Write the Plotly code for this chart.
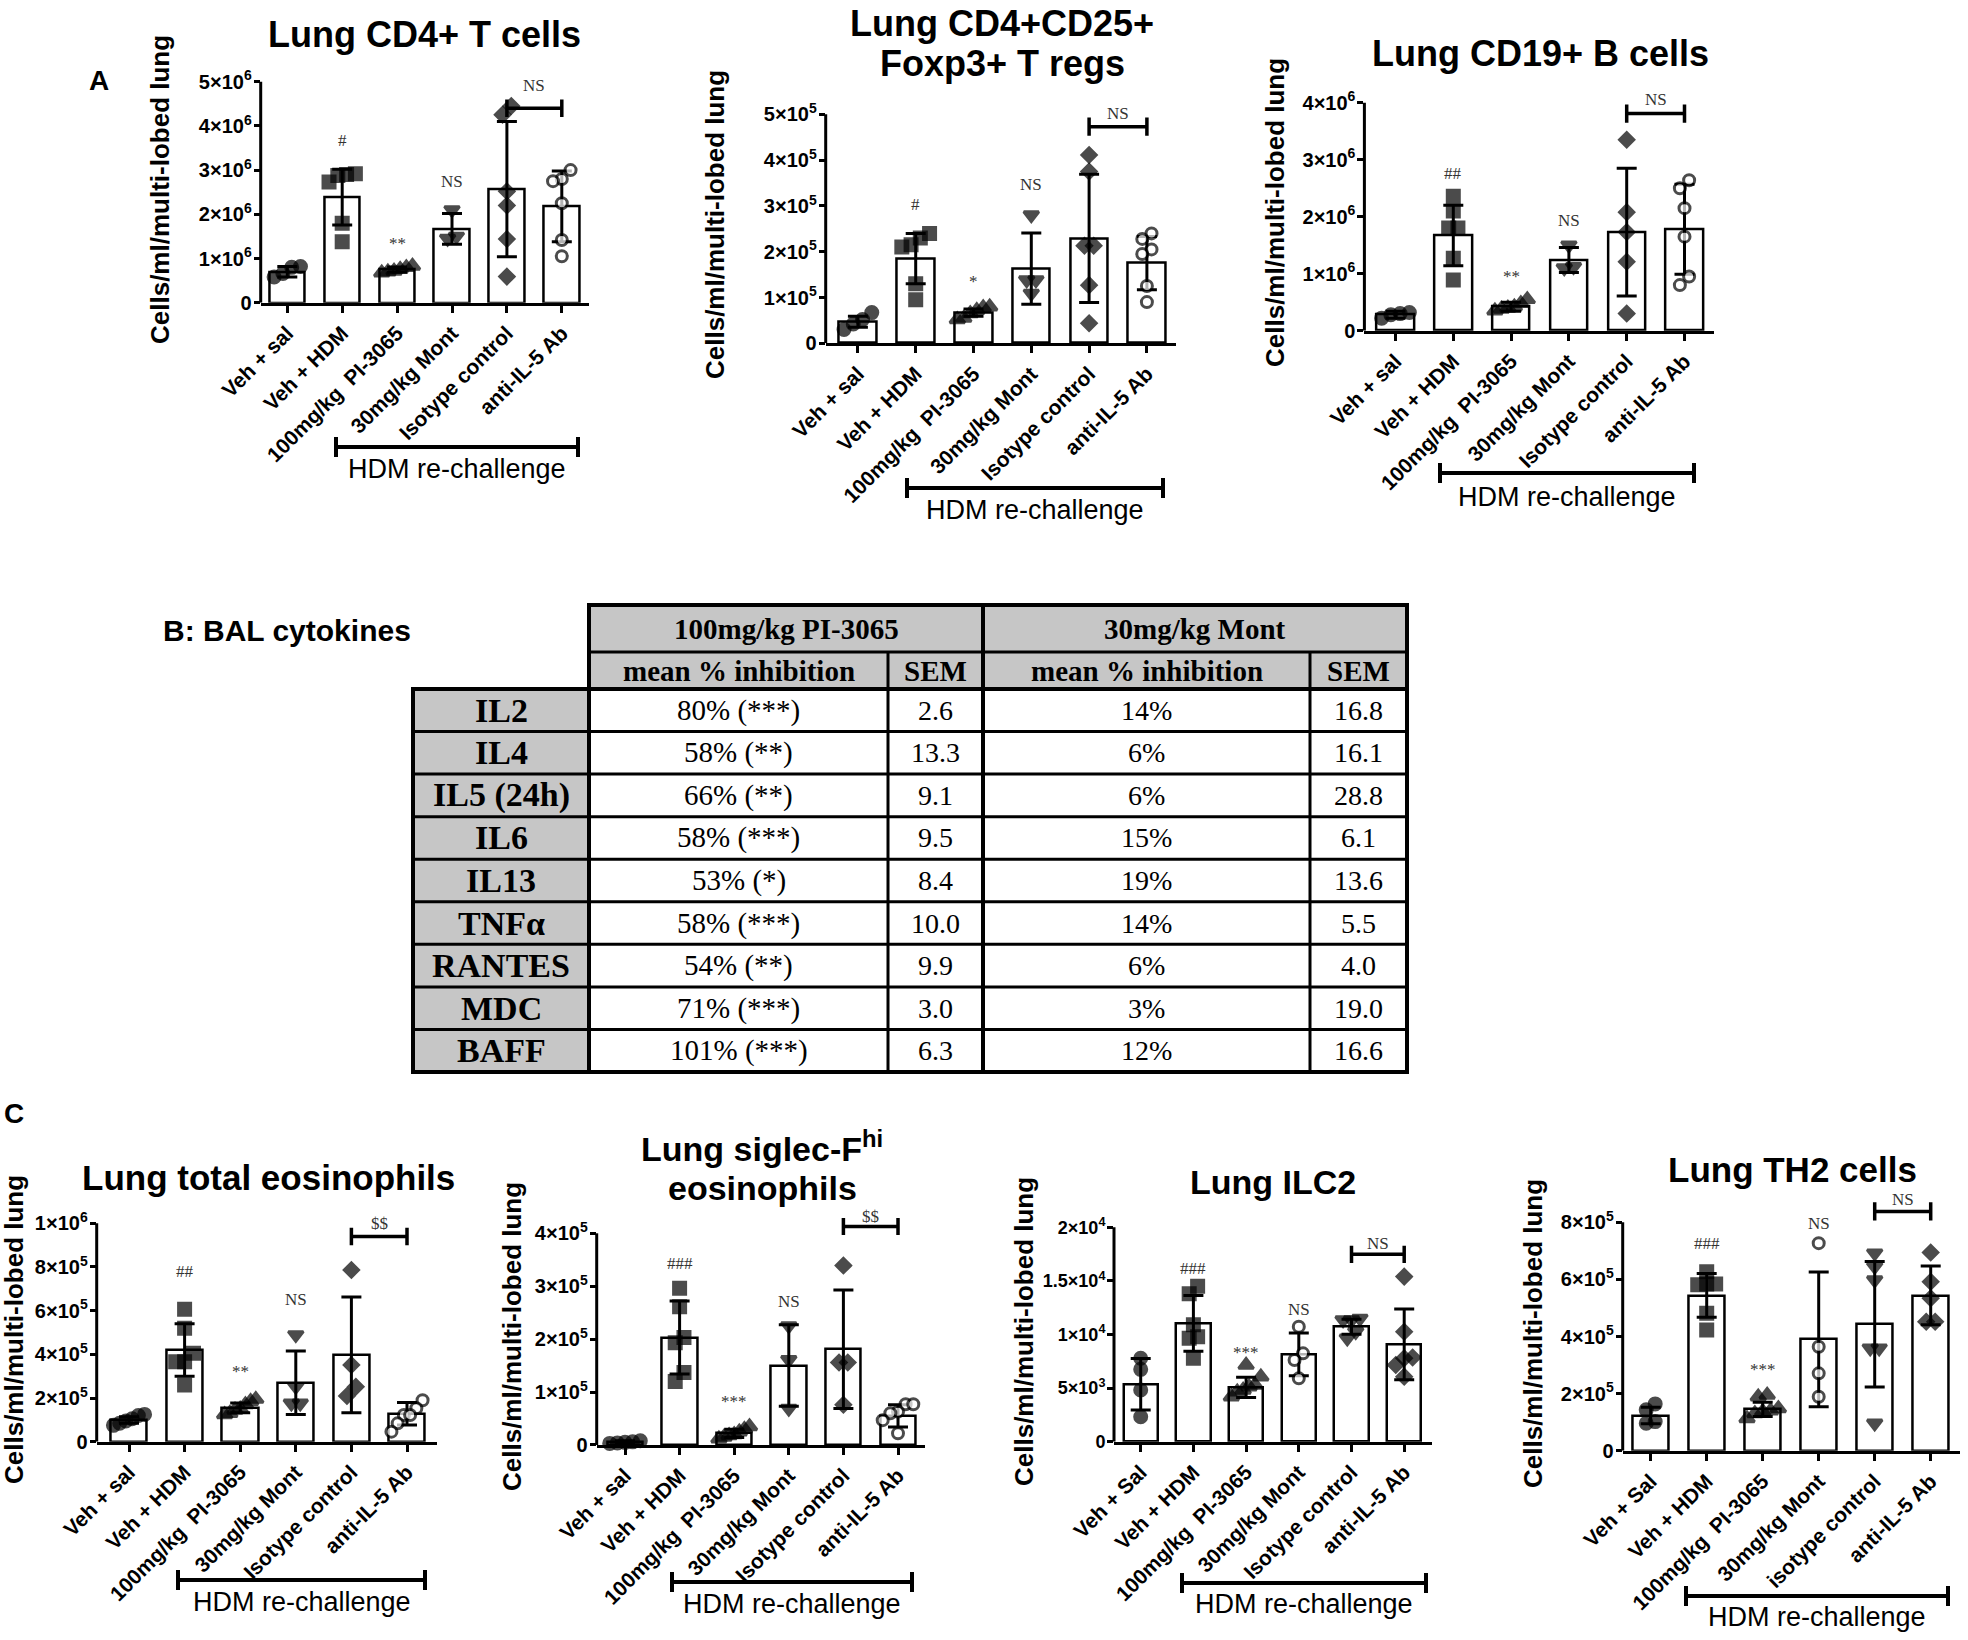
import plotly.graph_objects as go

W, H = 1968, 1640
SANS = "Liberation Sans"
SERIF = "Liberation Serif"

# ---------------- categories / tick labels ----------------
cats_A = ["Veh + sal", "Veh + HDM", "100mg/kg\u00a0 PI-3065", "30mg/kg Mont", "Isotype control", "anti-IL-5 Ab"]
cats_C3 = ["Veh + Sal", "Veh + HDM", "100mg/kg\u00a0 PI-3065", "30mg/kg Mont", "Isotype control", "anti-IL-5 Ab"]
cats_C4 = ["Veh + Sal", "Veh + HDM", "100mg/kg\u00a0 PI-3065", "30mg/kg Mont", "isotype control", "anti-IL-5 Ab"]

sym_std = ["circle", "square", "triangle-up", "triangle-down", "diamond", "open"]
sym_C34 = ["circle", "square", "triangle-up", "open", "triangle-down", "diamond"]

tickv_A1 = [0, 1, 2, 3, 4, 5]
tickt_A1 = ["0", "1×10<sup>6</sup>", "2×10<sup>6</sup>", "3×10<sup>6</sup>", "4×10<sup>6</sup>", "5×10<sup>6</sup>"]
tickv_A2 = [0, 1, 2, 3, 4, 5]
tickt_A2 = ["0", "1×10<sup>5</sup>", "2×10<sup>5</sup>", "3×10<sup>5</sup>", "4×10<sup>5</sup>", "5×10<sup>5</sup>"]
tickv_A3 = [0, 1, 2, 3, 4]
tickt_A3 = ["0", "1×10<sup>6</sup>", "2×10<sup>6</sup>", "3×10<sup>6</sup>", "4×10<sup>6</sup>"]
tickv_C1 = [0, 2, 4, 6, 8, 10]
tickt_C1 = ["0", "2×10<sup>5</sup>", "4×10<sup>5</sup>", "6×10<sup>5</sup>", "8×10<sup>5</sup>", "1×10<sup>6</sup>"]
tickv_C2 = [0, 1, 2, 3, 4]
tickt_C2 = ["0", "1×10<sup>5</sup>", "2×10<sup>5</sup>", "3×10<sup>5</sup>", "4×10<sup>5</sup>"]
tickv_C3 = [0, 5, 10, 15, 20]
tickt_C3 = ["0", "5×10<sup>3</sup>", "1×10<sup>4</sup>", "1.5×10<sup>4</sup>", "2×10<sup>4</sup>"]
tickv_C4 = [0, 2, 4, 6, 8]
tickt_C4 = ["0", "2×10<sup>5</sup>", "4×10<sup>5</sup>", "6×10<sup>5</sup>", "8×10<sup>5</sup>"]

# ---------------- data (in chart units) ----------------
# A1: Lung CD4+ T cells (x1e6)
A1_mean = [0.70, 2.39, 0.75, 1.67, 2.57, 2.18]
A1_sd = [0.12, 0.63, 0.06, 0.35, 1.53, 0.80]
A1_pts = [[0.82, 0.80, 0.58, 0.66], [2.92, 2.90, 2.88, 2.73, 1.80, 1.38],
          [0.83, 0.80, 0.76, 0.72, 0.68, 0.70], [2.10, 1.50, 1.45],
          [4.45, 4.25, 2.52, 2.20, 1.44, 0.59], [3.00, 2.80, 2.75, 2.25, 1.42, 1.05]]
A1_sig = ["#", "**", "NS"]
A1_sig_y = [3.68, 1.35, 2.74]
A1_pair = "NS"
A1_pair_y = 4.40
A1_pair_label_y = 4.92

# A2: Tregs (x1e5)
A2_mean = [0.47, 1.85, 0.67, 1.63, 2.29, 1.75]
A2_sd = [0.12, 0.55, 0.08, 0.78, 1.40, 0.58]
A2_pts = [[0.67, 0.52, 0.42, 0.30], [2.40, 2.30, 2.15, 2.10, 1.30, 0.95],
          [0.80, 0.78, 0.72, 0.65, 0.55, 0.52], [2.80, 1.38, 1.38, 1.09],
          [4.11, 3.75, 2.13, 2.13, 1.27, 0.44], [2.40, 2.28, 2.05, 1.95, 1.25, 0.90]]
A2_sig = ["#", "*", "NS"]
A2_sig_y = [3.02, 1.35, 3.46]
A2_pair = "NS"
A2_pair_y = 4.73
A2_pair_label_y = 5.02

# A3: CD19+ B cells (x1e6)
A3_mean = [0.28, 1.67, 0.42, 1.24, 1.73, 1.78]
A3_sd = [0.06, 0.53, 0.08, 0.22, 1.12, 0.79]
A3_pts = [[0.32, 0.30, 0.28, 0.22], [2.36, 2.10, 1.80, 1.80, 1.27, 0.89],
          [0.55, 0.48, 0.42, 0.38, 0.35, 0.40], [1.50, 1.12, 1.10],
          [3.35, 2.08, 1.73, 1.21, 0.30], [2.64, 2.50, 2.15, 1.65, 0.95, 0.80]]
A3_sig = ["##", "**", "NS"]
A3_sig_y = [2.76, 0.95, 1.94]
A3_pair = "NS"
A3_pair_y = 3.81
A3_pair_label_y = 4.05

# C1: total eosinophils (x1e5)
C1_mean = [0.99, 4.20, 1.55, 2.70, 3.97, 1.28]
C1_sd = [0.15, 1.20, 0.22, 1.45, 2.65, 0.52]
C1_pts = [[1.25, 1.20, 1.05, 0.95, 0.85, 0.75], [6.06, 5.19, 4.05, 3.66, 3.66, 2.60],
          [1.95, 1.85, 1.70, 1.50, 1.30, 1.25, 1.45], [4.89, 2.52, 1.76, 1.76],
          [7.86, 3.51, 2.52, 2.09], [1.90, 1.53, 1.22, 1.22, 0.84, 0.46]]
C1_sig = ["##", "**", "NS"]
C1_sig_y = [7.8, 3.2, 6.5]
C1_pair = "$$"
C1_pair_y = 9.4
C1_pair_label_y = 10.0

# C2: siglec-F hi eosinophils (x1e5)
C2_mean = [0.05, 2.03, 0.22, 1.50, 1.81, 0.55]
C2_sd = [0.03, 0.69, 0.08, 0.77, 1.12, 0.21]
C2_pts = [[0.08, 0.06, 0.04, 0.03, 0.05], [2.96, 2.61, 2.03, 1.93, 1.37, 1.20],
          [0.35, 0.30, 0.25, 0.20, 0.15, 0.12, 0.18], [2.25, 1.61, 0.69],
          [3.39, 1.56, 1.56, 0.76], [0.77, 0.77, 0.63, 0.60, 0.47, 0.22]]
C2_sig = ["###", "***", "NS"]
C2_sig_y = [3.43, 0.82, 2.71]
C2_pair = "$$"
C2_pair_y = 4.13
C2_pair_label_y = 4.31

# C3: ILC2 (x1e3)
C3_mean = [5.35, 11.04, 5.07, 8.15, 10.73, 9.08]
C3_sd = [2.40, 2.60, 0.95, 2.00, 0.70, 3.30]
C3_pts = [[7.78, 6.75, 4.82, 2.33], [14.5, 13.8, 10.9, 9.8, 9.64, 7.78],
          [7.15, 6.07, 5.29, 5.13, 4.82, 4.67, 4.20], [10.73, 8.24, 7.62, 5.91],
          [11.5, 11.35, 11.35, 10.26, 9.64], [15.4, 10.26, 7.86, 7.78, 7.15, 6.07]]
C3_sig = ["###", "***", "NS"]
C3_sig_y = [16.17, 8.3, 12.29]
C3_pair = "NS"
C3_pair_y = 17.48
C3_pair_label_y = 18.5

# C4: TH2 cells (x1e5)
C4_mean = [1.23, 5.44, 1.45, 3.90, 4.43, 5.44]
C4_sd = [0.29, 0.77, 0.25, 2.36, 2.20, 1.03]
C4_pts = [[1.64, 1.43, 1.02, 0.96], [6.27, 5.84, 5.84, 5.81, 4.81, 4.23],
          [1.95, 1.89, 1.48, 1.37, 1.40, 1.30, 1.13], [7.27, 3.64, 2.71, 1.89],
          [6.92, 6.45, 5.98, 3.59, 3.59, 0.96], [6.94, 5.92, 5.34, 4.52, 4.52]]
C4_sig = ["###", "***", "NS"]
C4_sig_y = [7.27, 2.85, 7.97]
C4_pair = "NS"
C4_pair_y = 8.38
C4_pair_label_y = 8.79

# ---------------- table B ----------------
tbl_groups = ["100mg/kg PI-3065", "30mg/kg Mont"]
tbl_sub = ["mean % inhibition", "SEM", "mean % inhibition", "SEM"]
cytokines = ["IL2", "IL4", "IL5 (24h)", "IL6", "IL13", "TNFα", "RANTES", "MDC", "BAFF"]
pi_inhib = ["80% (***)", "58% (**)", "66% (**)", "58% (***)", "53% (*)", "58% (***)", "54% (**)", "71% (***)", "101% (***)"]
pi_sem = [2.6, 13.3, 9.1, 9.5, 8.4, 10.0, 9.9, 3.0, 6.3]
mont_inhib = ["14%", "6%", "6%", "15%", "19%", "14%", "6%", "3%", "12%"]
mont_sem = [16.8, 16.1, 28.8, 6.1, 13.6, 5.5, 4.0, 19.0, 16.6]

# ---------------- layout specs (pixels) ----------------
charts = [
    dict(title=["Lung CD4+ T cells"], title_y=[34], title_x=424, tsize=36, cats=cats_A, mean=A1_mean, sd=A1_sd,
         pts=A1_pts, syms=sym_std, ymax=5, tv=tickv_A1, tt=tickt_A1, sig=A1_sig, sig_y=A1_sig_y, pair=A1_pair,
         pair_y=A1_pair_y, pair_ly=A1_pair_label_y, box=(260.7, 588.6, 81.7, 302.7, 287.3, 54.9),
         ytitle=(160, 190), hdm=(336, 578, 447, 469), tfs=20),
    dict(title=["Lung CD4+CD25+", "Foxp3+ T regs"], title_y=[23, 63], title_x=1002, tsize=36, cats=cats_A,
         mean=A2_mean, sd=A2_sd, pts=A2_pts, syms=sym_std, ymax=5, tv=tickv_A2, tt=tickt_A2, sig=A2_sig,
         sig_y=A2_sig_y, pair=A2_pair, pair_y=A2_pair_y, pair_ly=A2_pair_label_y,
         box=(825.7, 1175.7, 114.3, 343.3, 857.9, 57.8), ytitle=(715, 225), hdm=(907, 1163, 488, 510), tfs=20),
    dict(title=["Lung CD19+ B cells"], title_y=[53], title_x=1540, tsize=36, cats=cats_A, mean=A3_mean, sd=A3_sd,
         pts=A3_pts, syms=sym_std, ymax=4, tv=tickv_A3, tt=tickt_A3, sig=A3_sig, sig_y=A3_sig_y, pair=A3_pair,
         pair_y=A3_pair_y, pair_ly=A3_pair_label_y, box=(1364.4, 1713.5, 102.7, 330.7, 1395.5, 57.8),
         ytitle=(1275, 213), hdm=(1440, 1694, 473, 497), tfs=20),
    dict(title=["Lung total eosinophils"], title_y=[1177], title_x=268, tsize=35, cats=cats_A, mean=C1_mean,
         sd=C1_sd, pts=C1_pts, syms=sym_std, ymax=10, tv=tickv_C1, tt=tickt_C1, sig=C1_sig, sig_y=C1_sig_y,
         pair=C1_pair, pair_y=C1_pair_y, pair_ly=C1_pair_label_y, box=(96.7, 437, 1223.3, 1441.7, 129, 55.6),
         ytitle=(14, 1330), hdm=(178, 425, 1580, 1602), tfs=20),
    dict(title=["Lung siglec-F<sup>hi</sup>", "eosinophils"], title_y=[1146, 1188], title_x=762, tsize=34,
         cats=cats_A, mean=C2_mean, sd=C2_sd, pts=C2_pts, syms=sym_std, ymax=4, tv=tickv_C2, tt=tickt_C2,
         sig=C2_sig, sig_y=C2_sig_y, pair=C2_pair, pair_y=C2_pair_y, pair_ly=C2_pair_label_y,
         box=(596.7, 925, 1233.3, 1445, 625, 54.6), ytitle=(512, 1337), hdm=(672, 912, 1582, 1604), tfs=20),
    dict(title=["Lung ILC2"], title_y=[1182], title_x=1273, tsize=34, cats=cats_C3, mean=C3_mean, sd=C3_sd,
         pts=C3_pts, syms=sym_C34, ymax=20, tv=tickv_C3, tt=tickt_C3, sig=C3_sig, sig_y=C3_sig_y, pair=C3_pair,
         pair_y=C3_pair_y, pair_ly=C3_pair_label_y, box=(1114, 1431.7, 1227.3, 1441.7, 1140.7, 52.7),
         ytitle=(1024, 1332), hdm=(1182, 1426, 1583, 1604), tfs=18),
    dict(title=["Lung TH2 cells"], title_y=[1169], title_x=1792, tsize=35, cats=cats_C4, mean=C4_mean, sd=C4_sd,
         pts=C4_pts, syms=sym_C34, ymax=8, tv=tickv_C4, tt=tickt_C4, sig=C4_sig, sig_y=C4_sig_y, pair=C4_pair,
         pair_y=C4_pair_y, pair_ly=C4_pair_label_y, box=(1622.7, 1960, 1222.3, 1450.7, 1650.7, 56),
         ytitle=(1533, 1334), hdm=(1686, 1948, 1596, 1617), tfs=20),
]

EXT = 1.12


def px(x):
    return x / W


def py(y):
    return 1 - y / H


def spread(vals, ymax):
    n = len(vals)
    order = sorted(range(n), key=lambda i: vals[i])
    clusters = []
    for i in order:
        if clusters and abs(vals[i] - vals[clusters[-1][-1]]) < 0.045 * ymax:
            clusters[-1].append(i)
        else:
            clusters.append([i])
    offs = [0.0] * n
    for c in clusters:
        k = len(c)
        if k == 1:
            continue
        step = min(0.16, 0.56 / (k - 1))
        for j, idx in enumerate(c):
            offs[idx] = (j - (k - 1) / 2) * step
    return offs


fig = go.Figure()
shapes = []
annotations = []
layout_axes = {}


def afont(size, bold=False, family=SANS, color="black"):
    return dict(family=family, size=size, color=color, weight="bold" if bold else "normal")


for k, ch in enumerate(charts, start=1):
    sfx = "" if k == 1 else str(k)
    xr, yr = "x" + sfx, "y" + sfx
    x0, x1, ytop, ybot, c0, sp = ch["box"]
    ymax = ch["ymax"]
    xrange = [(x0 - c0) / sp, (x1 - c0) / sp]
    dom_top = ybot - (ybot - ytop) * EXT
    layout_axes["xaxis" + sfx] = dict(
        domain=[px(x0), px(x1)], range=xrange, anchor=yr, showline=True, linewidth=3, linecolor="black",
        ticks="outside", ticklen=7, tickwidth=3, tickcolor="black", tickvals=list(range(6)), ticktext=ch["cats"],
        tickangle=-45, tickfont=afont(21, True), showgrid=False, zeroline=False, fixedrange=True, automargin=False)
    layout_axes["yaxis" + sfx] = dict(
        domain=[py(ybot), py(dom_top)], range=[0, ymax * EXT], anchor=xr, showline=False, ticks="outside",
        ticklen=6, tickwidth=3, tickcolor="black", tickvals=ch["tv"], ticktext=ch["tt"], ticklabelstandoff=-2,
        tickfont=afont(ch["tfs"], True), showgrid=False, zeroline=False, fixedrange=True, automargin=False)
    # y axis line (only up to ymax)
    shapes.append(dict(type="line", xref=xr + " domain", yref=yr, x0=0, x1=0, y0=0, y1=ymax,
                       line=dict(color="black", width=3)))
    # bars with SD error bars
    fig.add_trace(go.Bar(x=list(range(6)), y=ch["mean"], width=0.65, xaxis=xr, yaxis=yr,
                         marker=dict(color="white", line=dict(color="black", width=2.5)),
                         error_y=dict(type="data", array=ch["sd"], visible=True, thickness=3, width=10,
                                      color="black"),
                         showlegend=False, hoverinfo="skip"))
    # individual points
    xs, ys, ss, sz, fc = [], [], [], [], []
    for g, vals in enumerate(ch["pts"]):
        offs = spread(vals, ymax)
        for v, o in zip(vals, offs):
            xs.append(g + o)
            ys.append(v)
            sym = ch["syms"][g]
            if sym == "open":
                ss.append("circle")
                fc.append("white")
                sz.append(11)
            else:
                ss.append(sym)
                fc.append("black")
                sz.append(13 if "triangle" in sym else (11 if sym == "diamond" else 12))
    fig.add_trace(go.Scatter(x=xs, y=ys, mode="markers", xaxis=xr, yaxis=yr, cliponaxis=False,
                             marker=dict(symbol=ss, size=sz, color=fc, line=dict(color="black", width=3)),
                             showlegend=False, hoverinfo="skip"))
    # significance marks
    for g, (t, v) in enumerate(zip(ch["sig"], ch["sig_y"]), start=1):
        annotations.append(dict(x=g, y=v, xref=xr, yref=yr, text=t, showarrow=False,
                                font=afont(17, False, SERIF, "#333333"), xanchor="center", yanchor="middle"))
    # pair bracket (isotype vs anti-IL-5)
    by = ch["pair_y"]
    tk = 0.04 * ymax
    shapes.append(dict(type="line", xref=xr, yref=yr, x0=4, x1=5, y0=by, y1=by, line=dict(color="black", width=3.5)))
    for xx in (4, 5):
        shapes.append(dict(type="line", xref=xr, yref=yr, x0=xx, x1=xx, y0=by - tk, y1=by + tk,
                           line=dict(color="black", width=3.5)))
    annotations.append(dict(x=4.5, y=ch["pair_ly"], xref=xr, yref=yr, text=ch["pair"], showarrow=False,
                            font=afont(17, False, SERIF, "#333333"), xanchor="center", yanchor="middle"))
    # titles
    for line, ty in zip(ch["title"], ch["title_y"]):
        annotations.append(dict(x=px(ch["title_x"]), y=py(ty), xref="paper", yref="paper", text=line,
                                showarrow=False, font=afont(ch["tsize"], True), xanchor="center",
                                yanchor="middle"))
    # y-axis title
    annotations.append(dict(x=px(ch["ytitle"][0]), y=py(ch["ytitle"][1]), xref="paper", yref="paper",
                            text="Cells/ml/multi-lobed lung", textangle=-90, showarrow=False,
                            font=afont(26, True), xanchor="center", yanchor="middle"))
    # HDM re-challenge bracket
    hx0, hx1, hy, ty = ch["hdm"]
    shapes.append(dict(type="line", xref="paper", yref="paper", x0=px(hx0), x1=px(hx1), y0=py(hy), y1=py(hy),
                       line=dict(color="black", width=4)))
    for xx in (hx0, hx1):
        shapes.append(dict(type="line", xref="paper", yref="paper", x0=px(xx), x1=px(xx), y0=py(hy - 10),
                           y1=py(hy + 10), line=dict(color="black", width=4)))
    annotations.append(dict(x=px((hx0 + hx1) / 2), y=py(ty), xref="paper", yref="paper", text="HDM re-challenge",
                            showarrow=False, font=afont(27), xanchor="center", yanchor="middle"))

# panel letters
annotations.append(dict(x=px(99), y=py(80), xref="paper", yref="paper", text="A", showarrow=False,
                        font=afont(28, True), xanchor="center", yanchor="middle"))
annotations.append(dict(x=px(14), y=py(1113), xref="paper", yref="paper", text="C", showarrow=False,
                        font=afont(28, True), xanchor="center", yanchor="middle"))
annotations.append(dict(x=px(413), y=py(630), xref="paper", yref="paper", text="B: BAL cytokines", showarrow=False,
                        font=afont(30, True), xanchor="right", yanchor="middle"))

# ---------------- table B drawn with shapes + text ----------------
TX = [413, 589, 888, 983, 1310, 1407]
TY0, TY1, TY2, TYE = 605, 652, 689, 1072
RH = (TYE - TY2) / len(cytokines)
GRAY = "#c6c6c6"


def rect(xa, ya, xb, yb, fill):
    shapes.append(dict(type="rect", xref="paper", yref="paper", x0=px(xa), x1=px(xb), y0=py(yb), y1=py(ya),
                       fillcolor=fill, line=dict(width=0), layer="below"))


def hline(y, xa, xb, w=3):
    shapes.append(dict(type="line", xref="paper", yref="paper", x0=px(xa), x1=px(xb), y0=py(y), y1=py(y),
                       line=dict(color="black", width=w)))


def vline(x, ya, yb, w=3):
    shapes.append(dict(type="line", xref="paper", yref="paper", x0=px(x), x1=px(x), y0=py(ya), y1=py(yb),
                       line=dict(color="black", width=w)))


rect(TX[1], TY0, TX[5], TY2, GRAY)
rect(TX[0], TY2, TX[1], TYE, GRAY)
hline(TY0, TX[1] - 2, TX[5] + 2, 4)
hline(TY1, TX[1], TX[5], 3)
hline(TY2, TX[0] - 2, TX[5] + 2, 4)
for i in range(1, len(cytokines)):
    hline(TY2 + i * RH, TX[0], TX[5], 3)
hline(TYE, TX[0] - 2, TX[5] + 2, 4)
vline(TX[0], TY2, TYE, 4)
vline(TX[1], TY0, TYE, 4)
vline(TX[2], TY1, TYE, 3)
vline(TX[3], TY0, TYE, 4)
vline(TX[4], TY1, TYE, 3)
vline(TX[5], TY0, TYE, 4)


def ttext(x, y, text, size, bold):
    annotations.append(dict(x=px(x), y=py(y), xref="paper", yref="paper", text=text, showarrow=False,
                            font=afont(size, bold, SERIF), xanchor="center", yanchor="middle"))


ttext((TX[1] + TX[3]) / 2, (TY0 + TY1) / 2, tbl_groups[0], 29, True)
ttext((TX[3] + TX[5]) / 2, (TY0 + TY1) / 2, tbl_groups[1], 29, True)
for j, s in enumerate(tbl_sub):
    ttext((TX[j + 1] + TX[j + 2]) / 2, (TY1 + TY2) / 2, s, 29, True)
for i, name in enumerate(cytokines):
    yc = TY2 + (i + 0.5) * RH
    ttext((TX[0] + TX[1]) / 2, yc, name, 34, True)
    ttext((TX[1] + TX[2]) / 2, yc, pi_inhib[i], 29, False)
    ttext((TX[2] + TX[3]) / 2, yc, f"{pi_sem[i]:.1f}", 28, False)
    ttext((TX[3] + TX[4]) / 2, yc, mont_inhib[i], 28, False)
    ttext((TX[4] + TX[5]) / 2, yc, f"{mont_sem[i]:.1f}", 28, False)

fig.update_layout(
    template="none",
    width=W, height=H, margin=dict(l=0, r=0, t=0, b=0, pad=0, autoexpand=False), paper_bgcolor="white",
    plot_bgcolor="white", showlegend=False, shapes=shapes, annotations=annotations, bargap=0,
    font=dict(family=SANS, color="black"), **layout_axes)

fig.write_html("out.html", config={"displayModeBar": False},
               post_script="document.body.style.margin='0px';")
